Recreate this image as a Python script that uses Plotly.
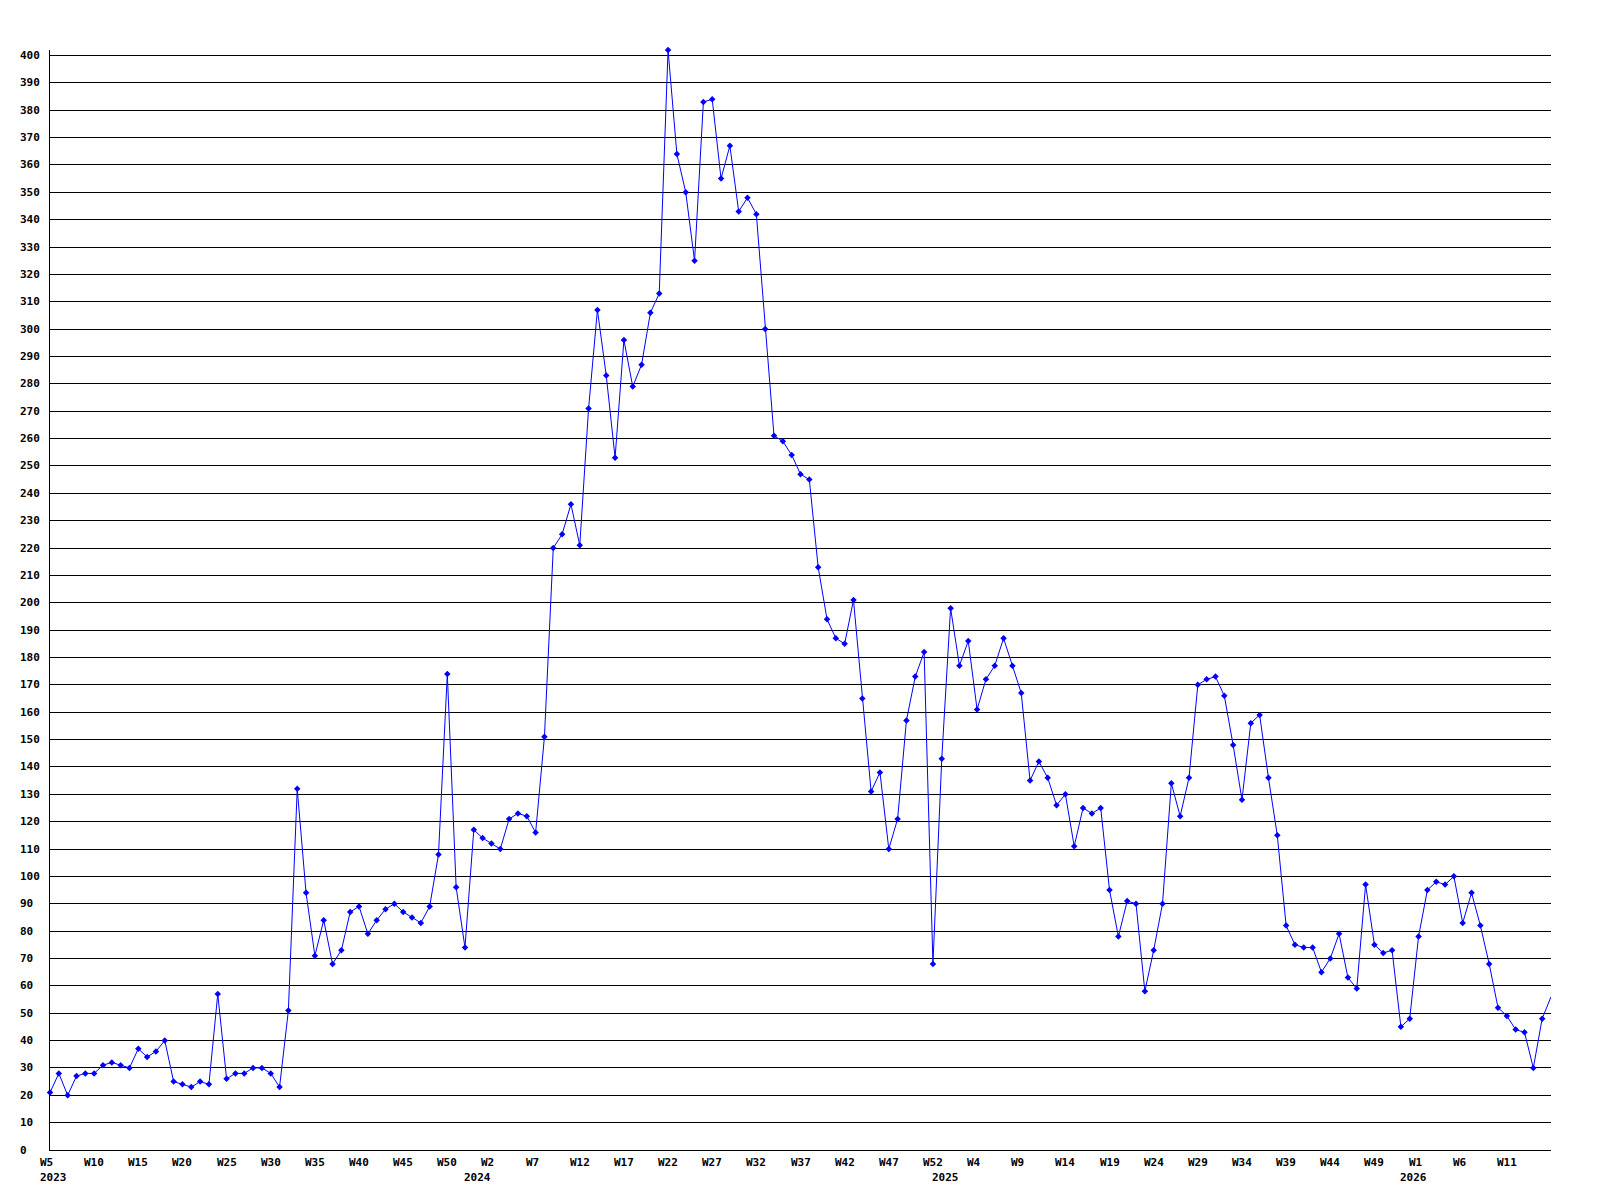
import plotly.graph_objects as go

# ---------------- data ----------------
first_year = 2023
first_week = 5
weeks_per_year = 53          # the axis numbers each year W1..W53
label_every = 5

values = [21, 28, 20, 27, 28, 28, 31, 32, 31, 30,
          37, 34, 36, 40, 25, 24, 23, 25, 24, 57,
          26, 28, 28, 30, 30, 28, 23, 51, 132, 94,
          71, 84, 68, 73, 87, 89, 79, 84, 88, 90,
          87, 85, 83, 89, 108, 174, 96, 74, 117, 114,
          112, 110, 121, 123, 122, 116, 151, 220, 225, 236,
          221, 271, 307, 283, 253, 296, 279, 287, 306, 313,
          402, 364, 350, 325, 383, 384, 355, 367, 343, 348,
          342, 300, 261, 259, 254, 247, 245, 213, 194, 187,
          185, 201, 165, 131, 138, 110, 121, 157, 173, 182,
          68, 143, 198, 177, 186, 161, 172, 177, 187, 177,
          167, 135, 142, 136, 126, 130, 111, 125, 123, 125,
          95, 78, 91, 90, 58, 73, 90, 134, 122, 136,
          170, 172, 173, 166, 148, 128, 156, 159, 136, 115,
          82, 75, 74, 74, 65, 70, 79, 63, 59, 97,
          75, 72, 73, 45, 48, 78, 95, 98, 97, 100,
          83, 94, 82, 68, 52, 49, 44, 43, 30, 48,
          56]

year_labels = ["2023", "2024", "2025", "2026"]
y_ticks = list(range(0, 401, 10))

# ---------------- derived ----------------
n = len(values)
pts = []
yy, ww = first_year, first_week
for i in range(n):
    pts.append((yy, ww))
    ww += 1
    if ww > weeks_per_year:
        ww = 1
        yy += 1
x = list(range(n))
week_text = [f"W{w}" for (_, w) in pts]
tick_idx = list(range(0, n - 1, label_every))

year_pos = []
for lab in year_labels:
    yr = int(lab)
    if yr == first_year:
        year_pos.append(0)
    else:
        year_pos.append(pts.index((yr - 1, weeks_per_year)))

FONT = dict(family="DejaVu Sans Mono", size=11, color="black", weight="bold")
BLUE = "#0000FF"

fig = go.Figure()
# line (clipped at the plot edge)
fig.add_trace(go.Scatter(
    x=x, y=values, mode="lines",
    line=dict(color=BLUE, width=1),
    hoverinfo="skip",
))
# point markers (the final point sits on the clipped right edge)
fig.add_trace(go.Scatter(
    x=x[:-1], y=values[:-1], mode="markers",
    marker=dict(symbol="diamond", size=5, color=BLUE, line=dict(width=0)),
    cliponaxis=False, hoverinfo="skip",
))

annotations = []
for i in tick_idx:
    annotations.append(dict(x=i, y=0, xref="x", yref="y", text=week_text[i],
                            showarrow=False, xanchor="left", yanchor="middle",
                            borderpad=0, borderwidth=0,
                            xshift=-10, yshift=-12, font=FONT))
for lab, p in zip(year_labels, year_pos):
    annotations.append(dict(x=p, y=0, xref="x", yref="y", text=lab,
                            showarrow=False, xanchor="left", yanchor="middle",
                            borderpad=0, borderwidth=0,
                            xshift=-10, yshift=-27, font=FONT))
for v in y_ticks:
    annotations.append(dict(x=0, y=v, xref="paper", yref="y", text=str(v),
                            showarrow=False, xanchor="left", yanchor="middle",
                            borderpad=0, borderwidth=0,
                            xshift=-30, font=FONT))

fig.update_layout(
    width=1584, height=1184,
    margin=dict(l=42, r=41, t=42, b=42),
    paper_bgcolor="white", plot_bgcolor="white",
    showlegend=False, hovermode=False,
    annotations=annotations,
    xaxis=dict(range=[0, n - 1], showgrid=False, zeroline=False,
               showline=True, linecolor="black", linewidth=1,
               showticklabels=False, ticks=""),
    yaxis=dict(range=[0, 402], tick0=0, dtick=10, showgrid=True,
               gridcolor="black", gridwidth=1, zeroline=False,
               showline=True, linecolor="black", linewidth=1,
               ticks="", showticklabels=False),
)

fig.write_html("out.html")
